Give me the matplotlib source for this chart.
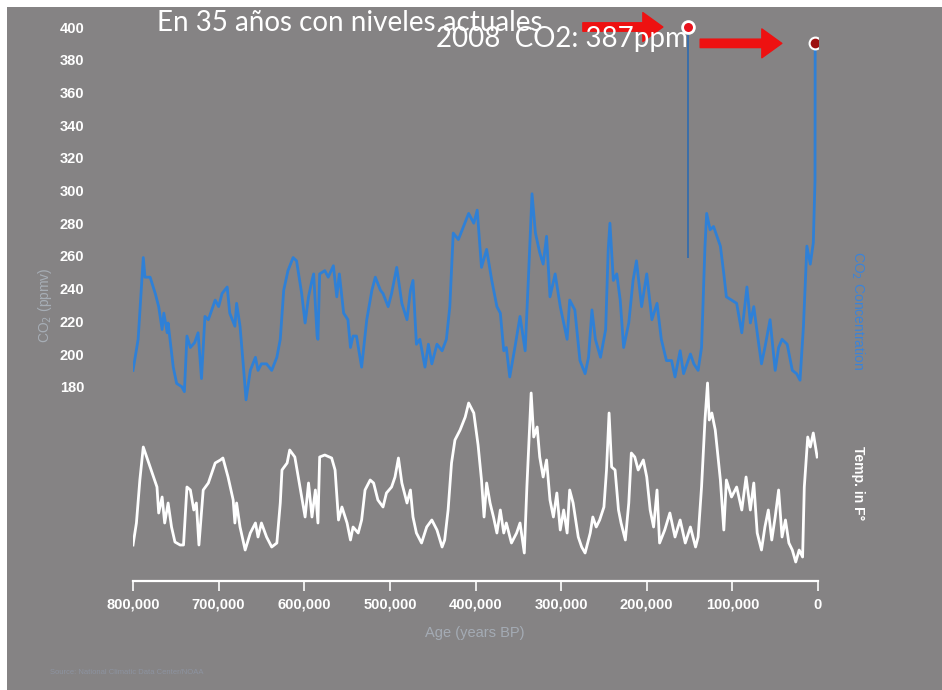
import numpy as np
import matplotlib
matplotlib.use('Agg')
import matplotlib.pyplot as plt
from matplotlib.patches import Rectangle

# CO2 record (age in thousands of years BP, ppmv)
co2_age = [800, 794, 788, 786, 780, 774, 770, 766, 764, 760, 759, 753, 749, 743, 740, 737, 733, 728, 724, 720,
           716, 712, 704, 700, 696, 690, 687, 681, 679, 675, 671, 668, 663, 657, 654, 650, 644, 638, 632, 628,
           624, 619, 613, 609, 603, 599, 595, 591, 589, 585, 584, 582, 576, 572, 566, 562, 559, 554, 549, 546,
           543, 539, 533, 527, 521, 517, 511, 508, 502, 498, 492, 486, 480, 476, 473, 469, 465, 459, 455, 451,
           445, 439, 434, 430, 426, 420, 414, 408, 402, 398, 393, 387, 381, 375, 371, 367, 364, 360, 354, 348,
           342, 338, 334, 330, 325, 321, 317, 313, 307, 301, 293, 290, 284, 278, 272, 268, 264, 260, 254, 248,
           245, 243, 239, 235, 231, 227, 221, 216, 212, 206, 200, 194, 188, 183, 177, 171, 167, 161, 157, 149,
           145, 140, 136, 132, 130, 126, 122, 118, 114, 110, 107, 101, 95, 89, 83, 79, 75, 70, 66, 62,
           56, 50, 46, 42, 36, 30, 25, 21, 17, 13, 9, 5.5, 3.5, 3.3]
co2_ppm = [190, 209, 259, 247, 247, 237, 229, 215, 225, 213, 219, 192, 182, 180, 177, 211, 204, 207, 213, 185,
           223, 221, 233, 229, 237, 241, 225, 217, 231, 217, 192, 172, 190, 198, 190, 194, 194, 190, 198, 209,
           239, 251, 259, 257, 237, 219, 235, 245, 249, 211, 209, 249, 251, 247, 254, 235, 249, 225, 221, 204,
           211, 211, 192, 221, 239, 247, 239, 237, 229, 237, 253, 231, 221, 239, 245, 206, 209, 192, 206, 194,
           206, 202, 209, 229, 274, 270, 278, 286, 280, 288, 253, 264, 245, 229, 225, 202, 204, 186, 204, 223,
           202, 249, 298, 274, 262, 255, 272, 235, 249, 229, 209, 233, 227, 196, 188, 198, 227, 209, 198, 215,
           264, 280, 245, 249, 233, 204, 219, 245, 257, 229, 249, 221, 231, 209, 196, 196, 186, 202, 188, 200,
           194, 190, 204, 266, 286, 276, 278, 272, 266, 249, 235, 233, 231, 213, 241, 219, 229, 209, 194, 204,
           221, 190, 204, 209, 206, 190, 188, 184, 217, 266, 255, 268, 306, 390]

# temperature record (relative, deg F)
temp_age = [800, 796, 792, 788, 784, 780, 776, 772, 770, 766, 763, 759, 755, 751, 745, 741, 737, 733, 729, 726,
            723, 718, 712, 704, 698, 695, 689, 683, 681, 679, 675, 669, 663, 657, 654, 650, 644, 638, 632, 628,
            626, 620, 617, 611, 605, 599, 595, 591, 587, 584, 582, 576, 568, 564, 560, 556, 550, 546, 543, 537,
            533, 529, 523, 519, 514, 508, 504, 498, 494, 490, 486, 480, 476, 473, 469, 463, 457, 451, 445, 439,
            436, 432, 428, 424, 418, 412, 408, 402, 397, 393, 390, 387, 383, 379, 375, 371, 367, 364, 358, 352,
            348, 343, 340, 335, 332, 328, 325, 321, 317, 313, 309, 305, 301, 297, 293, 290, 286, 280, 276, 272,
            266, 263, 259, 255, 250, 247, 244, 241, 237, 233, 230, 225, 221, 218, 214, 210, 204, 200, 196, 192,
            188, 185, 179, 173, 167, 161, 155, 149, 143, 140, 136, 132, 129, 127, 124, 120, 114, 110, 107, 101,
            95, 89, 84, 79, 75, 71, 66, 62, 58, 54, 50, 46, 42, 38, 34, 30, 26, 22, 18, 16,
            12, 9, 5.5, 1]
temp_val = [-7.5, -5.3, -1.0, 2.3, 1.3, 0.3, -0.7, -1.7, -4.3, -2.7, -5.3, -3.3, -5.7, -7.2, -7.5, -7.5, -1.7, -2.0, -4.0, -3.3,
            -7.5, -2.0, -1.3, 0.7, 1.0, 1.2, -0.7, -3.0, -5.3, -3.3, -5.7, -8.0, -6.3, -5.3, -6.7, -5.3, -6.7, -7.7, -7.3, -3.3,
            0.0, 0.7, 2.0, 1.3, -1.7, -4.7, -1.3, -4.7, -2.0, -5.3, 1.3, 1.5, 1.2, 0.0, -5.0, -3.7, -5.3, -7.0, -5.7, -6.3,
            -5.0, -2.0, -1.0, -1.3, -3.0, -3.7, -2.3, -1.7, -0.7, 1.2, -1.3, -3.3, -2.0, -4.7, -6.3, -7.3, -5.7, -5.0, -6.0, -7.7,
            -7.0, -4.0, 0.7, 3.0, 4.0, 5.3, 6.7, 5.7, 2.5, -1.0, -4.7, -1.3, -3.3, -4.7, -6.3, -4.0, -6.3, -5.3, -7.3, -6.3,
            -5.3, -8.3, -1.7, 7.7, 3.3, 4.3, 1.3, -0.7, 1.0, -3.0, -4.7, -2.3, -6.0, -4.0, -6.3, -2.0, -3.3, -6.7, -7.7, -8.3,
            -6.3, -4.7, -5.7, -5.0, -3.7, 0.0, 5.7, 0.3, 0.0, -4.0, -5.3, -7.0, -3.3, 1.7, 1.3, 0.0, 1.0, -0.7, -4.0, -5.7,
            -2.0, -7.3, -6.0, -4.3, -6.7, -5.0, -7.3, -5.7, -7.7, -6.7, -1.7, 5.0, 8.7, 5.0, 5.7, 4.0, -1.0, -6.0, -1.0, -2.7,
            -1.7, -4.0, -0.7, -4.0, -1.3, -6.3, -8.0, -5.7, -4.0, -7.0, -4.7, -2.0, -6.7, -5.0, -7.3, -8.0, -9.2, -8.0, -8.7, -1.7,
            3.3, 2.3, 3.7, 1.3]

# annotations
marker_age = 152          # "En 35 anos" marker
marker_from = 259
marker_ppm = 400
today_age = 3.3
today_ppm = 390

yticks = list(range(180, 401, 20))
xticks = [800, 700, 600, 500, 400, 300, 200, 100, 0]
xlabels = ['800,000', '700,000', '600,000', '500,000', '400,000', '300,000', '200,000', '100,000', '0']

W, H = 942, 690
bg = '#858384'

def fx(px):
    return px / W

def fy(py):
    return 1 - py / H

fig = plt.figure(figsize=(W / 100, H / 100), dpi=100)
fig.patch.set_facecolor('white')
fig.patches.append(Rectangle((fx(7), 0), 1, fy(7), transform=fig.transFigure,
                             facecolor=bg, edgecolor='none', zorder=-10))

ax = fig.add_axes([fx(133), fy(581), fx(818) - fx(133), fy(10) - fy(581)])
ax.patch.set_visible(False)
ax.plot(co2_age, co2_ppm, color='#2f80d6', lw=2.0, zorder=3)
ax.vlines(marker_age, marker_from, marker_ppm, color='#3a6ea8', lw=1.4, zorder=3)
ax.plot([marker_age], [marker_ppm], 'o', ms=8.5, mfc='#e8121c', mec='white', mew=2, zorder=5)
ax.plot([today_age], [today_ppm], 'o', ms=8.5, mfc='#9c1010', mec='white', mew=1.5, zorder=5)

ax.set_xlim(800, 0)
ax.set_ylim(61.2, 410.4)
ax.set_yticks(yticks)
ax.set_yticklabels([str(v) for v in yticks])
ax.set_xticks(xticks)
ax.set_xticklabels(xlabels)
for s in ['top', 'right', 'left']:
    ax.spines[s].set_visible(False)
ax.spines['bottom'].set_color('white')
ax.spines['bottom'].set_linewidth(1.6)
ax.tick_params(axis='y', length=0, pad=35, labelcolor='white', labelsize=10.5)
ax.tick_params(axis='x', direction='out', length=7, width=1.2, color='white', pad=5,
               labelcolor='white', labelsize=10.5)
for lab in ax.get_xticklabels() + ax.get_yticklabels():
    lab.set_fontfamily('Liberation Sans')
    lab.set_fontweight('bold')

tx = ax.twinx()
tx.plot(temp_age, temp_val, color='white', lw=2.0)
tx.set_ylim(-11.1, 46)
tx.axis('off')

# red arrows
ax.annotate('', xy=(marker_age, marker_ppm), xytext=(-105, 0), textcoords='offset pixels',
            arrowprops=dict(arrowstyle='simple,head_length=0.9,head_width=1.3,tail_width=0.38',
                            color='#ee1111', shrinkA=0, shrinkB=18, mutation_scale=16), zorder=4)
ax.annotate('', xy=(today_age, today_ppm), xytext=(-115, 0), textcoords='offset pixels',
            arrowprops=dict(arrowstyle='simple,head_length=0.9,head_width=1.3,tail_width=0.38',
                            color='#ee1111', shrinkA=0, shrinkB=24, mutation_scale=16), zorder=4)

fig.text(fx(157), fy(23), 'En 35 años con niveles actuales', color='white', fontsize=20,
         family='Lato', ha='left', va='center')
fig.text(fx(688), fy(39), '2008  CO2: 387ppm', color='white', fontsize=20,
         family='Lato', ha='right', va='center')

fig.text(fx(45), fy(305), 'CO$_2$ (ppmv)', color='#a7aeb6', fontsize=10, rotation=90,
         ha='center', va='center', family='Liberation Sans')
fig.text(fx(858), fy(310), 'CO$_2$ Concentration', color='#3c84d8', fontsize=10, rotation=270,
         ha='center', va='center', family='Liberation Sans')
fig.text(fx(858), fy(483), 'Temp. in F°', color='white', fontsize=10, rotation=270, fontweight='bold',
         ha='center', va='center', family='Liberation Sans')
fig.text(fx(475), fy(633), 'Age (years BP)', color='#a4abb4', fontsize=10.5,
         ha='center', va='center', family='Liberation Sans')
fig.text(fx(50), fy(673), 'Source: National Climatic Data Center/NOAA', color='#8d93a0', fontsize=5.5,
         ha='left', va='center', family='Liberation Sans')

fig.savefig('out.png', dpi=100, facecolor=fig.get_facecolor())
